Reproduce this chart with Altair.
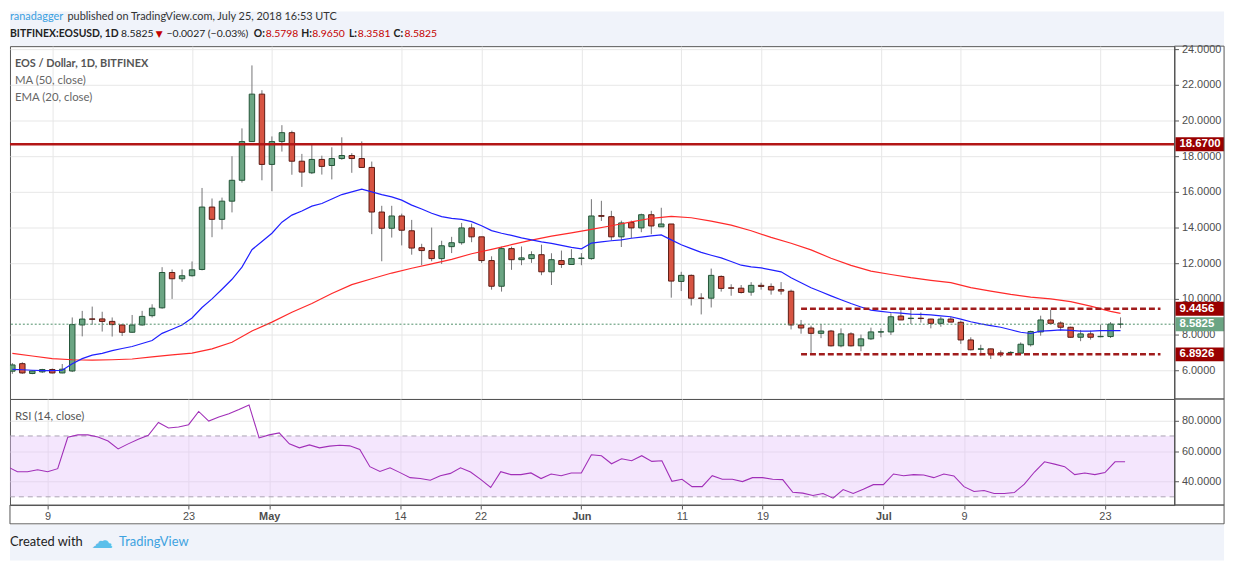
import altair as alt
import pandas as pd

# ---------------- data ----------------
first_date = "2018-04-05"
ref_date = "2018-04-09"

opens = [5.95, 6.37, 5.82, 5.91, 6.04, 5.85, 5.96, 8.54, 8.88, 8.88,
         8.74, 8.54, 8.13, 8.54, 9.06, 9.50, 11.48, 11.13, 11.30, 11.65,
         15.15, 14.46, 15.48, 16.65, 18.82, 21.48, 17.54, 18.82, 19.32, 17.72,
         17.07, 17.82, 17.48, 17.87, 18.04, 17.87, 17.37, 14.87, 13.96, 14.65,
         13.82, 12.87, 12.71, 12.26, 12.93, 13.15, 13.98, 13.48, 12.15, 10.71,
         12.82, 12.20, 12.26, 12.48, 11.52, 12.15, 11.93, 12.27, 12.26, 14.67,
         14.61, 13.48, 14.28, 13.98, 14.72, 14.04, 14.20, 10.98, 11.32, 10.05,
         10.04, 11.26, 10.62, 10.60, 10.38, 10.76, 10.70, 10.52, 10.43, 8.54,
         8.37, 8.07, 8.20, 7.37, 8.04, 7.37, 7.76, 8.14, 8.15, 9.04,
         8.90, 8.92, 8.87, 8.63, 8.87, 8.69, 7.70, 7.18, 7.20, 6.97,
         6.98, 6.96, 7.43, 8.15, 8.82, 8.65, 8.41, 7.85, 8.04, 7.88,
         7.89, 8.5798]
highs = [6.40, 6.45, 6.00, 6.08, 6.10, 6.35, 8.96, 9.33, 9.57, 9.28,
         8.96, 8.60, 9.10, 9.33, 9.70, 11.78, 11.65, 11.65, 12.10, 16.22,
         15.63, 15.68, 18.00, 19.56, 23.09, 21.70, 19.11, 19.74, 19.43, 18.13,
         18.68, 18.03, 18.50, 19.06, 18.17, 18.83, 17.70, 15.22, 15.22, 14.78,
         14.43, 13.09, 14.00, 13.26, 13.48, 14.26, 14.22, 13.48, 12.39, 12.93,
         12.93, 12.94, 12.67, 13.04, 12.56, 12.71, 12.79, 12.57, 15.59, 15.50,
         14.94, 14.39, 14.39, 14.78, 14.94, 15.11, 14.20, 11.52, 11.37, 10.32,
         11.70, 11.32, 10.82, 10.78, 10.94, 10.91, 10.87, 10.94, 10.52, 8.82,
         8.50, 8.59, 8.26, 8.35, 8.13, 8.00, 8.39, 8.35, 9.20, 9.46,
         9.46, 9.24, 8.89, 9.00, 9.00, 8.78, 7.85, 7.43, 7.22, 7.11,
         7.07, 7.56, 8.22, 9.06, 9.39, 8.74, 8.44, 8.26, 8.22, 8.56,
         8.70, 8.965]
lows = [5.80, 5.80, 5.78, 5.85, 5.82, 5.83, 5.90, 7.90, 8.55, 8.17,
        7.89, 7.92, 8.10, 8.50, 8.96, 9.45, 10.00, 10.96, 11.25, 11.60,
        13.46, 13.90, 14.85, 16.52, 18.80, 16.65, 16.04, 18.26, 16.96, 16.28,
        17.00, 16.97, 16.70, 17.80, 17.07, 17.37, 13.63, 12.11, 13.44, 13.00,
        12.48, 11.89, 12.11, 11.96, 12.57, 13.04, 13.18, 12.02, 10.52, 10.41,
        11.63, 11.89, 12.02, 11.33, 10.78, 11.74, 11.93, 11.89, 12.20, 14.37,
        13.28, 12.91, 13.41, 13.74, 13.63, 14.04, 10.07, 10.44, 9.63, 9.13,
        9.52, 10.41, 10.18, 10.30, 10.18, 10.52, 10.24, 10.24, 8.29, 8.05,
        6.96, 7.80, 7.33, 7.29, 7.33, 7.07, 7.70, 7.85, 7.98, 8.82,
        8.59, 8.67, 8.35, 8.44, 8.70, 7.48, 7.11, 6.83, 6.63, 6.74,
        6.89, 6.93, 7.33, 7.94, 8.60, 8.22, 7.82, 7.63, 7.72, 7.85,
        7.81, 8.3581]
closes = [6.30, 5.85, 5.96, 6.04, 5.85, 6.06, 8.56, 8.87, 8.86, 8.74,
          8.56, 8.13, 8.54, 9.02, 9.48, 11.48, 11.13, 11.30, 11.63, 15.15,
          14.46, 15.48, 16.65, 18.82, 21.48, 17.54, 18.82, 19.32, 17.72, 17.11,
          17.82, 17.43, 17.87, 18.04, 17.87, 17.37, 14.87, 13.96, 14.65, 13.85,
          12.85, 12.71, 12.26, 12.98, 13.15, 13.98, 13.48, 12.15, 10.71, 12.82,
          12.20, 12.30, 12.48, 11.52, 12.20, 11.93, 12.26, 12.29, 14.65, 14.63,
          13.48, 14.26, 13.98, 14.72, 14.09, 14.20, 11.00, 11.32, 10.04, 10.03,
          11.32, 10.59, 10.60, 10.36, 10.76, 10.70, 10.50, 10.44, 8.54, 8.37,
          8.07, 8.20, 7.37, 8.04, 7.37, 7.76, 8.15, 8.16, 9.00, 8.82,
          8.92, 8.90, 8.63, 8.87, 8.70, 7.70, 7.15, 7.20, 6.91, 6.95,
          7.00, 7.46, 8.17, 8.82, 8.63, 8.41, 7.85, 8.04, 7.85, 7.90,
          8.59, 8.5825]
ema20 = [6.05, 6.03, 6.00, 5.98, 5.98, 6.00, 6.37, 6.65, 6.85, 6.95,
         7.10, 7.22, 7.33, 7.50, 7.67, 8.07, 8.30, 8.54, 8.93, 9.52,
         10.00, 10.54, 11.10, 11.78, 12.76, 13.22, 13.68, 14.30, 14.70, 14.93,
         15.20, 15.35, 15.60, 15.85, 16.00, 16.15, 16.00, 15.85, 15.72, 15.54,
         15.26, 15.04, 14.80, 14.61, 14.52, 14.46, 14.33, 14.10, 13.83, 13.68,
         13.56, 13.42, 13.31, 13.20, 13.11, 13.00, 12.89, 12.81, 13.13, 13.20,
         13.26, 13.31, 13.40, 13.46, 13.53, 13.59, 13.31, 13.04, 12.82, 12.61,
         12.45, 12.30, 12.10, 11.89, 11.80, 11.74, 11.63, 11.52, 11.19, 10.91,
         10.63, 10.40, 10.17, 9.95, 9.74, 9.55, 9.37, 9.30, 9.24, 9.20,
         9.15, 9.13, 9.11, 9.05, 9.00, 8.87, 8.72, 8.60, 8.50, 8.41,
         8.27, 8.13, 8.06, 8.19, 8.22, 8.26, 8.24, 8.19, 8.19, 8.22,
         8.22, 8.22]
rsi_values = [49.8, 46.5, 46.5, 47.8, 46.5, 48.5, 69.1, 70.7, 70.7, 69.3,
              66.7, 61.5, 64.8, 67.8, 70.4, 78.9, 75.2, 75.9, 77.4, 86.1,
              79.8, 82.4, 84.6, 87.4, 90.4, 68.7, 70.7, 72.0, 64.8, 62.2,
              64.1, 62.2, 63.3, 63.9, 63.5, 61.1, 49.8, 46.7, 49.1, 45.9,
              42.6, 42.0, 40.9, 43.9, 45.4, 49.1, 46.3, 41.5, 36.1, 46.5,
              44.6, 44.6, 45.7, 42.0, 45.0, 43.9, 45.7, 45.7, 57.6, 57.0,
              51.7, 55.0, 53.7, 57.0, 53.3, 53.7, 40.2, 41.5, 36.7, 36.7,
              43.9, 41.5, 41.5, 40.0, 42.6, 42.6, 41.5, 41.3, 33.0, 32.4,
              30.9, 32.2, 29.1, 34.8, 32.2, 35.0, 38.0, 38.0, 45.0, 43.9,
              44.6, 44.3, 42.6, 45.0, 43.7, 36.7, 33.5, 34.1, 32.2, 32.2,
              32.8, 38.3, 46.3, 53.0, 51.5, 49.8, 44.6, 45.7, 44.6, 45.9,
              53.0, 53.0]
# MA(50) read every second day from 2018-04-05, plus the last day
ma50_values = [6.95, 6.80, 6.65, 6.59, 6.57, 6.59, 6.63, 6.75, 6.86, 6.96,
               7.20, 7.57, 8.20, 8.70, 9.25, 9.74, 10.30, 10.80, 11.13, 11.45,
               11.72, 11.96, 12.22, 12.53, 12.78, 13.04, 13.30, 13.52, 13.70, 13.90,
               14.10, 14.32, 14.52, 14.63, 14.55, 14.36, 14.14, 13.82, 13.45, 13.12,
               12.75, 12.28, 11.88, 11.56, 11.37, 11.19, 11.04, 10.91, 10.63, 10.44,
               10.25, 10.10, 10.00, 9.85, 9.60, 9.30, 9.19]

tick_dates = ["2018-04-09", "2018-04-23", "2018-05-01", "2018-05-14", "2018-05-22",
              "2018-06-01", "2018-06-11", "2018-06-19", "2018-07-01", "2018-07-09",
              "2018-07-23"]
tick_labels = ["9", "23", "May", "14", "22", "Jun", "11", "19", "Jul", "9", "23"]
month_labels = ["May", "Jun", "Jul"]

resistance = 18.67
range_top = 9.4456
range_bottom = 6.8926
last_price = 8.5825
range_start = "2018-06-23"
range_end = "2018-07-29"

# ---------------- frames ----------------
REF = pd.Timestamp(ref_date)


def dnum(d):
    return (pd.Timestamp(d) - REF).days


dates = pd.date_range(first_date, periods=len(opens), freq="D")
candles = pd.DataFrame({
    "day": [(d - REF).days for d in dates],
    "open": opens, "high": highs, "low": lows, "close": closes,
    "ema": ema20, "rsi": rsi_values,
})
candles["dir"] = ["up" if c >= o else "down" for o, c in zip(opens, closes)]

ma_dates = list(pd.date_range(first_date, periods=len(ma50_values) - 1, freq="2D")) + [dates[-1]]
ma_df = pd.DataFrame({"day": [(d - REF).days for d in ma_dates], "val": ma50_values})

tick_days = [dnum(d) for d in tick_dates]
one = pd.DataFrame({"a": [0]})

# ---------------- layout constants ----------------
W, H1, H2, STRIP = 1175, 356, 107, 50
GRID = "#e7e7e7"
AXF = "Liberation Sans"
TXF = "Lato"
FRAME = "#555555"

xs = alt.Scale(domain=[-3.74, 111.91], nice=False, zero=False)
ys = alt.Scale(domain=[4.39, 24.17], nice=False, zero=False)
rs = alt.Scale(domain=[24.6, 94.3], nice=False, zero=False)

x_grid_axis = alt.Axis(values=tick_days, labels=False, ticks=False, domain=False,
                       grid=True, gridColor=GRID, title=None)
price_axis = alt.Axis(orient="right", values=list(range(6, 25, 2)), format=".4f", title=None,
                      grid=True, gridColor=GRID, domain=False, tickColor=FRAME, tickSize=4,
                      labelColor="#4d4d4d", labelFont=AXF, labelFontSize=11, labelPadding=3)
rsi_axis = alt.Axis(orient="right", values=[40, 60, 80], format=".4f", title=None,
                    grid=True, gridColor=GRID, domain=False, tickColor=FRAME, tickSize=4,
                    labelColor="#4d4d4d", labelFont=AXF, labelFontSize=11, labelPadding=3)

label_expr = ""
for d, lab in zip(tick_days, tick_labels):
    label_expr += f"datum.value == {d} ? '{lab}' : "
label_expr += "''"
bold_test = " || ".join(f"datum.value == {d}" for d, lab in zip(tick_days, tick_labels)
                        if lab in month_labels)
x_bottom_axis = alt.Axis(values=tick_days, labelExpr=label_expr,
                         labelFontWeight={"condition": {"test": bold_test, "value": "bold"},
                                          "value": "normal"},
                         grid=True, gridColor=GRID, domain=False, tickColor=FRAME, tickSize=4,
                         labelColor="#4d4d4d", labelFont=AXF, labelFontSize=11, labelPadding=2,
                         title=None)


def PX(f):
    return alt.X(f, scale=xs, axis=x_grid_axis)


def PY(f):
    return alt.Y(f, scale=ys, axis=price_axis)


def label(text, x, y, size=12, color="#555555", weight="normal", font=TXF):
    return alt.Chart(one).mark_text(text=text, align="left", baseline="middle", fontSize=size,
                                    color=color, fontWeight=weight, font=font).encode(
        x=alt.value(x), y=alt.value(y))


def box(x0, x1, y0, y1, **kw):
    return alt.Chart(one).mark_rect(**kw).encode(
        x=alt.value(x0), x2=alt.value(x1), y=alt.value(y0), y2=alt.value(y1))


# ---------------- price panel ----------------
base = alt.Chart(candles).encode(x=PX("day:Q"))
wicks = base.mark_rule(color="#737375", strokeWidth=1, clip=True).encode(y=PY("low:Q"), y2="high:Q")
bodies = base.mark_bar(size=5.5, orient="vertical", strokeWidth=1, clip=True).encode(
    y=PY("open:Q"), y2="close:Q",
    fill=alt.Fill("dir:N", scale=alt.Scale(domain=["up", "down"], range=["#6ba583", "#d75442"]),
                  legend=None),
    stroke=alt.Stroke("dir:N", scale=alt.Scale(domain=["up", "down"], range=["#225437", "#5b1a13"]),
                      legend=None))
ema_line = alt.Chart(candles).mark_line(color="#2020ff", strokeWidth=1.2, clip=True).encode(
    x=PX("day:Q"), y=PY("ema:Q"))
ma_line = alt.Chart(ma_df).mark_line(color="#ff2a2a", strokeWidth=1.2, clip=True).encode(
    x=PX("day:Q"), y=PY("val:Q"))

res_line = alt.Chart(pd.DataFrame({"p": [resistance]})).mark_rule(
    color="#b31616", strokeWidth=2.5).encode(y=PY("p:Q"))
range_df = pd.DataFrame({"p": [range_top, range_bottom],
                         "d0": [dnum(range_start)] * 2, "d1": [dnum(range_end)] * 2})
range_lines = alt.Chart(range_df).mark_rule(color="#a01c1c", strokeWidth=2.5,
                                            strokeDash=[6, 3]).encode(
    x=PX("d0:Q"), x2="d1:Q", y=PY("p:Q"))
last_line = alt.Chart(pd.DataFrame({"p": [last_price]})).mark_rule(
    color="#4f8f69", strokeWidth=1, strokeDash=[2, 2]).encode(y=PY("p:Q"))

tags = pd.DataFrame({"p": [resistance, range_top, last_price, range_bottom],
                     "kind": ["level", "level", "last", "level"]})
tags["label"] = [f"{v:.4f}" for v in tags["p"]]
tag_bg = alt.Chart(tags).mark_rule(strokeWidth=14, strokeCap="butt").encode(
    x=alt.value(W + 1), x2=alt.value(W + STRIP), y=PY("p:Q"),
    color=alt.Color("kind:N", scale=alt.Scale(domain=["level", "last"],
                                              range=["#990000", "#6ba583"]), legend=None))
tag_txt = alt.Chart(tags).mark_text(align="left", baseline="middle", color="white",
                                    fontWeight="bold", font=AXF, fontSize=11.5).encode(
    x=alt.value(W + 5), y=PY("p:Q"), text="label:N")

price_strip = box(W, W + STRIP, 0, H1, filled=False, stroke=FRAME, strokeWidth=1)

price = alt.layer(
    wicks, bodies, ma_line, ema_line, res_line, range_lines, last_line,
    tag_bg, tag_txt, price_strip,
    label("EOS / Dollar, 1D, BITFINEX", 5, 18, size=11, weight="bold"),
    label("MA (50, close)", 5, 35, size=11.5, color="#666666"),
    label("EMA (20, close)", 5, 52, size=11.5, color="#666666"),
).properties(width=W, height=H1, view=alt.ViewBackground(stroke=FRAME, strokeWidth=1))

# ---------------- RSI panel ----------------
band = alt.Chart(pd.DataFrame({"lo": [30], "hi": [70]})).mark_rect(
    color="#e4c4fa", opacity=0.42).encode(
    y=alt.Y("lo:Q", scale=rs, axis=rsi_axis), y2="hi:Q")
band_lines = alt.Chart(pd.DataFrame({"v": [30, 70]})).mark_rule(
    color="#aaa2b2", strokeWidth=1, strokeDash=[5, 4]).encode(
    y=alt.Y("v:Q", scale=rs, axis=rsi_axis))
rsi_line = alt.Chart(candles).mark_line(color="#a12fb8", strokeWidth=1.1, clip=True).encode(
    x=alt.X("day:Q", scale=xs, axis=x_bottom_axis),
    y=alt.Y("rsi:Q", scale=rs, axis=rsi_axis))

rsi = alt.layer(
    band, band_lines, rsi_line,
    box(W, W + STRIP, 0, H2, filled=False, stroke=FRAME, strokeWidth=1),
    box(0, W + STRIP, H2, H2 + 19, filled=False, stroke=FRAME, strokeWidth=1),
    label("RSI (14, close)", 5, 18, size=11.5, color="#555555"),
).properties(width=W, height=H2, view=alt.ViewBackground(stroke=FRAME, strokeWidth=1))

# ---------------- header & footer ----------------
RED = "#c40000"
HS = 10.5
header = alt.layer(
    box(0, W + STRIP, 0, 35, color="#f0f3fa"),
    label("ranadagger", 0, 6, size=11, color="#3aa0e0"),
    label("published on TradingView.com, July 25, 2018 16:53 UTC", 58, 6, size=11, color="#333333"),
    label("BITFINEX:EOSUSD, 1D", 0, 23, size=HS, color="#222222", weight="bold"),
    label("8.5825", 112, 23, size=HS, color="#222222"),
    label("▼", 147, 23, size=9, color=RED, font="DejaVu Sans"),
    label("−0.0027 (−0.03%)", 158, 23, size=HS, color="#222222"),
    label("O:", 246, 23, size=HS, color="#222222", weight="bold"),
    label("8.5798", 258, 23, size=HS, color=RED),
    label("H:", 294, 23, size=HS, color="#222222", weight="bold"),
    label("8.9650", 305, 23, size=HS, color=RED),
    label("L:", 342, 23, size=HS, color="#222222", weight="bold"),
    label("8.3581", 351, 23, size=HS, color=RED),
    label("C:", 387, 23, size=HS, color="#222222", weight="bold"),
    label("8.5825", 398, 23, size=HS, color=RED),
).properties(width=W + STRIP, height=35, view=alt.ViewBackground(stroke="transparent"))

footer = alt.layer(
    box(0, W + STRIP, 20, 56, color="#f0f3fa"),
    label("Created with", 0, 37, size=13, color="#222222"),
    label("☁", 82, 36, size=22, color="#5bbfea", font="DejaVu Sans"),
    label("TradingView", 110, 37, size=13, color="#3ea2e0"),
).properties(width=W + STRIP, height=56, view=alt.ViewBackground(stroke="transparent"))

chart = alt.vconcat(header, price, rsi, footer, spacing=0, bounds="flush", padding=0,
                    background="white")

chart.save("out.html", embed_options={"renderer": "svg", "actions": False})
